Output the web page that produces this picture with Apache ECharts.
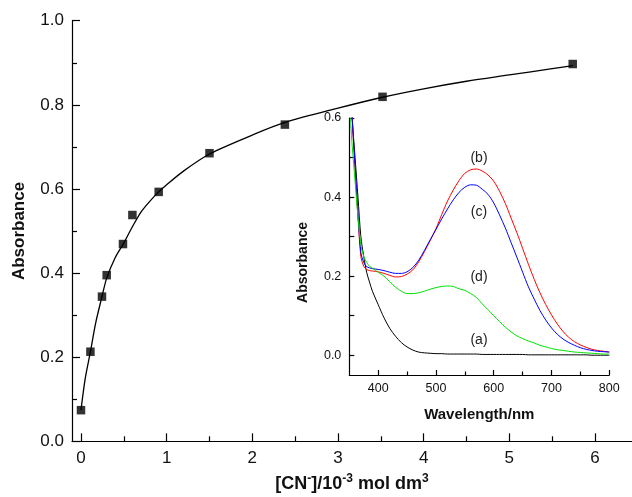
<!DOCTYPE html>
<html>
<head>
<meta charset="utf-8">
<script src="https://cdn.jsdelivr.net/npm/echarts@6/dist/echarts.min.js"></script>
<style>
html,body{margin:0;padding:0;background:#fff;}
#c{width:632px;height:497px;}
</style>
</head>
<body>
<div id="c"></div>
<script>
// ---- Main plot data ----
const concX = [0, 0.11, 0.245, 0.30, 0.49, 0.60, 0.907, 1.5, 2.38, 3.52, 5.74];
const absY  = [0.074, 0.213, 0.344, 0.395, 0.469, 0.538, 0.593, 0.685, 0.753, 0.819, 0.897];
const fitX  = [0, 0.05, 0.11, 0.17, 0.245, 0.30, 0.40, 0.49, 0.60, 0.70, 0.80, 0.907, 1.0, 1.2, 1.5, 2.0, 2.38, 3.0, 3.52, 4.0, 4.5, 5.0, 5.5, 5.74];
const fitY  = [0.074, 0.15, 0.213, 0.28, 0.344, 0.388, 0.437, 0.468, 0.510, 0.545, 0.570, 0.593, 0.610, 0.643, 0.683, 0.728, 0.758, 0.792, 0.818, 0.838, 0.856, 0.871, 0.886, 0.893];
const mainXTicks = [0, 1, 2, 3, 4, 5, 6];
const mainXMinor = [0.5, 1.5, 2.5, 3.5, 4.5, 5.5];

// ---- Inset spectra data ----
const wavelength = [352, 355, 360, 365, 370, 375, 380, 385, 390, 400, 410, 420, 430, 440, 450, 460, 470, 480, 490, 500, 510, 520, 530, 540, 550, 560, 570, 580, 590, 600, 610, 620, 630, 640, 650, 660, 670, 680, 690, 700, 710, 720, 730, 740, 750, 760, 770, 780, 790, 800];
const specA = [0.70, 0.60, 0.50, 0.40, 0.30, 0.25, 0.210, 0.185, 0.162, 0.128, 0.095, 0.068, 0.048, 0.032, 0.021, 0.013, 0.008, 0.006, 0.005, 0.004, 0.004, 0.003, 0.003, 0.003, 0.003, 0.003, 0.003, 0.002, 0.002, 0.002, 0.002, 0.002, 0.002, 0.002, 0.002, 0.001, 0.001, 0.001, 0.001, 0.001, 0.001, 0.001, 0.001, 0.001, 0.001, 0.001, 0.000, 0.000, 0.000, 0.000];
const specB = [0.70, 0.60, 0.47, 0.35, 0.25, 0.225, 0.217, 0.214, 0.213, 0.211, 0.207, 0.202, 0.198, 0.199, 0.205, 0.216, 0.236, 0.262, 0.290, 0.320, 0.356, 0.390, 0.418, 0.442, 0.460, 0.469, 0.471, 0.466, 0.456, 0.440, 0.415, 0.384, 0.347, 0.310, 0.270, 0.230, 0.192, 0.158, 0.128, 0.102, 0.079, 0.060, 0.045, 0.034, 0.026, 0.020, 0.015, 0.012, 0.010, 0.008];
const specC = [0.70, 0.60, 0.48, 0.36, 0.26, 0.235, 0.224, 0.221, 0.219, 0.217, 0.214, 0.210, 0.207, 0.207, 0.211, 0.222, 0.240, 0.265, 0.292, 0.318, 0.345, 0.370, 0.393, 0.412, 0.425, 0.431, 0.430, 0.420, 0.407, 0.385, 0.355, 0.322, 0.285, 0.248, 0.210, 0.173, 0.142, 0.113, 0.089, 0.069, 0.053, 0.041, 0.032, 0.025, 0.019, 0.015, 0.012, 0.010, 0.009, 0.008];
const specD = [0.60, 0.53, 0.44, 0.35, 0.28, 0.25, 0.235, 0.225, 0.220, 0.210, 0.200, 0.186, 0.172, 0.162, 0.156, 0.156, 0.158, 0.162, 0.167, 0.171, 0.174, 0.175, 0.174, 0.168, 0.164, 0.156, 0.146, 0.130, 0.115, 0.100, 0.085, 0.071, 0.059, 0.049, 0.042, 0.036, 0.031, 0.025, 0.021, 0.017, 0.014, 0.012, 0.010, 0.008, 0.007, 0.006, 0.005, 0.004, 0.003, 0.003];
const insetXTicks = [400, 500, 600, 700, 800];
const insetXMinor = [450, 550, 650, 750];
const insetYTicks = [0, 0.1, 0.2, 0.3, 0.4, 0.5, 0.6];
const insetYLabels = [0, 0.2, 0.4, 0.6];
const curveLabels = ['(a)', '(b)', '(c)', '(d)'];

const FONT = 'Liberation Sans, Arial, Helvetica, sans-serif';
const pair = (xs, ys) => xs.map((x, i) => [x, ys[i]]);
const axisLineStyle = { color: '#000', width: 1.2 };
const MAIN_H = 420.6, INSET_H = 257;

const chart = echarts.init(document.getElementById('c'), null, { renderer: 'canvas' });
chart.setOption({
  backgroundColor: '#fff',
  animation: false,
  textStyle: { fontFamily: FONT },
  grid: [
    { left: 72, top: 20.7, width: 560, height: MAIN_H, containLabel: false, outerBoundsMode: 'none' },
    { left: 349.3, top: 118, width: 260, height: INSET_H, containLabel: false, outerBoundsMode: 'none' }
  ],
  xAxis: [
    {
      gridIndex: 0, type: 'value', position: 'bottom', min: -0.105, max: 6.432,
      axisLine: { show: true, lineStyle: axisLineStyle, onZero: false },
      axisTick: { show: true, inside: true, length: 8, customValues: mainXTicks, lineStyle: axisLineStyle },
      axisLabel: { customValues: mainXTicks, fontSize: 17, color: '#111', margin: 9, fontFamily: FONT },
      splitLine: { show: false },
      name: '[CN{sup|-}]/10{sup|-3} mol dm{sup|3}',
      nameLocation: 'middle', nameGap: 26,
      nameTextStyle: {
        fontSize: 18, fontWeight: 'bold', color: '#111', fontFamily: FONT, lineHeight: 23,
        rich: { sup: { fontSize: 12, fontWeight: 'bold', verticalAlign: 'top', fontFamily: FONT, color: '#111' } }
      }
    },
    {
      // minor ticks: a top axis shifted down onto the bottom axis line
      gridIndex: 0, type: 'value', position: 'top', offset: -MAIN_H, min: -0.105, max: 6.432,
      axisLine: { show: false, onZero: false },
      axisTick: { show: true, inside: false, length: 5, customValues: mainXMinor, lineStyle: axisLineStyle },
      axisLabel: { show: false },
      splitLine: { show: false }
    },
    {
      gridIndex: 1, type: 'value', position: 'bottom', min: 350, max: 800,
      axisLine: { show: true, lineStyle: axisLineStyle, onZero: false },
      axisTick: { show: true, inside: true, length: 5, customValues: insetXTicks, lineStyle: axisLineStyle },
      axisLabel: { customValues: insetXTicks, fontSize: 12.5, color: '#111', margin: 7, fontFamily: FONT },
      splitLine: { show: false },
      name: 'Wavelength/nm', nameLocation: 'middle', nameGap: 32,
      nameTextStyle: { fontSize: 15, fontWeight: 'bold', color: '#111', fontFamily: FONT }
    },
    {
      gridIndex: 1, type: 'value', position: 'top', offset: -INSET_H, min: 350, max: 800,
      axisLine: { show: false, onZero: false },
      axisTick: { show: true, inside: false, length: 3.5, customValues: insetXMinor, lineStyle: axisLineStyle },
      axisLabel: { show: false },
      splitLine: { show: false }
    }
  ],
  yAxis: [
    {
      gridIndex: 0, type: 'value', position: 'left', min: 0, max: 1, interval: 0.2,
      axisLine: { show: true, lineStyle: axisLineStyle, onZero: false },
      axisTick: { show: true, inside: true, length: 8, lineStyle: axisLineStyle },
      minorTick: { show: true, splitNumber: 2, length: 5, lineStyle: axisLineStyle },
      axisLabel: { fontSize: 17, color: '#111', margin: 8, fontFamily: FONT, formatter: v => v.toFixed(1) },
      splitLine: { show: false },
      name: 'Absorbance', nameLocation: 'middle', nameGap: 44,
      nameTextStyle: { fontSize: 17, fontWeight: 'bold', color: '#111', fontFamily: FONT }
    },
    {
      gridIndex: 1, type: 'value', position: 'left', min: -0.05, max: 0.6,
      axisLine: { show: true, lineStyle: axisLineStyle, onZero: false },
      axisTick: { show: true, inside: true, length: 5, customValues: insetYTicks, lineStyle: axisLineStyle },
      axisLabel: { customValues: insetYLabels, fontSize: 12.5, color: '#111', margin: 8, fontFamily: FONT, formatter: v => v.toFixed(1) },
      splitLine: { show: false }
    }
  ],
  graphic: [
    { type: 'text', left: 296, top: 222, rotation: Math.PI / 2, originX: 0, originY: 0,
      style: { text: 'Absorbance', font: 'bold 14px ' + FONT, fill: '#111', align: 'center', verticalAlign: 'middle' } },
    { type: 'text', x: 479, y: 340, style: { text: curveLabels[0], font: '14px ' + FONT, fill: '#222', align: 'center', verticalAlign: 'middle' } },
    { type: 'text', x: 479, y: 158, style: { text: curveLabels[1], font: '14px ' + FONT, fill: '#222', align: 'center', verticalAlign: 'middle' } },
    { type: 'text', x: 479, y: 212, style: { text: curveLabels[2], font: '14px ' + FONT, fill: '#222', align: 'center', verticalAlign: 'middle' } },
    { type: 'text', x: 479, y: 277, style: { text: curveLabels[3], font: '14px ' + FONT, fill: '#222', align: 'center', verticalAlign: 'middle' } }
  ],
  series: [
    { type: 'line', xAxisIndex: 0, yAxisIndex: 0, data: pair(fitX, fitY), smooth: 0.3, showSymbol: false,
      lineStyle: { color: '#000', width: 1.3 }, z: 2 },
    { type: 'scatter', xAxisIndex: 0, yAxisIndex: 0, data: pair(concX, absY), symbol: 'rect', symbolSize: 8.5,
      itemStyle: { color: '#000' }, z: 3 },
    { type: 'line', xAxisIndex: 2, yAxisIndex: 1, data: pair(wavelength, specA), smooth: 0.3, showSymbol: false,
      lineStyle: { color: '#000', width: 1 }, clip: true },
    { type: 'line', xAxisIndex: 2, yAxisIndex: 1, data: pair(wavelength, specB), smooth: 0.3, showSymbol: false,
      lineStyle: { color: '#ff0000', width: 1 }, clip: true },
    { type: 'line', xAxisIndex: 2, yAxisIndex: 1, data: pair(wavelength, specC), smooth: 0.3, showSymbol: false,
      lineStyle: { color: '#0000ff', width: 1 }, clip: true },
    { type: 'line', xAxisIndex: 2, yAxisIndex: 1, data: pair(wavelength, specD), smooth: 0.3, showSymbol: false,
      lineStyle: { color: '#00e000', width: 1 }, clip: true }
  ]
});
</script>
</body>
</html>
